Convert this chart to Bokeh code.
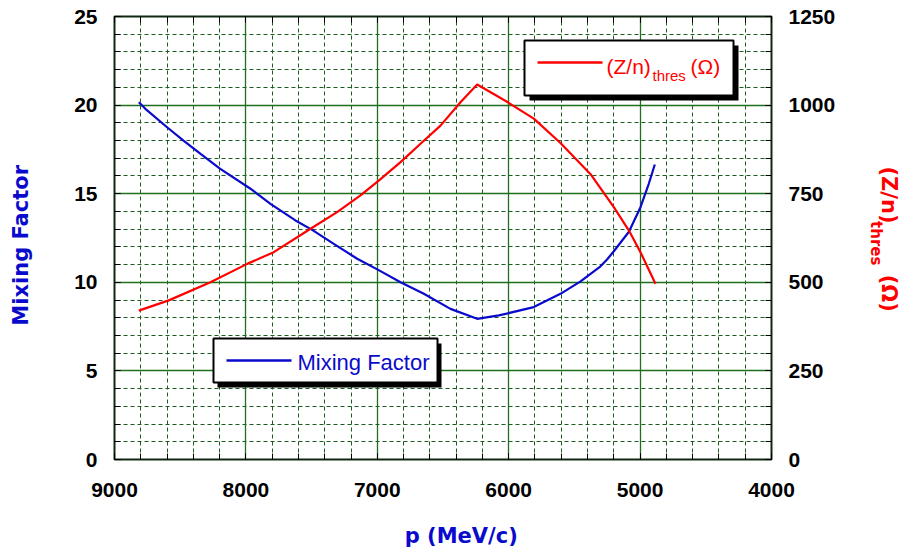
import math
from bokeh.plotting import figure
from bokeh.models import (Range1d, LinearAxis, FixedTicker, BoxAnnotation, Label, Title)
from bokeh.embed import file_html
from bokeh.resources import INLINE

# ---------------- data ----------------
mix_p = [8815, 8765, 8600, 8475, 8345, 8195, 7965, 7813, 7623, 7496, 7331, 7153,
         6993, 6823, 6646, 6443, 6240, 6075, 5809, 5606, 5453, 5301, 5250, 5200, 5085,
         4997, 4934, 4888]
mix_val = [20.16, 19.79, 18.75, 18.0, 17.25, 16.4, 15.28, 14.43, 13.49, 12.96, 12.17, 11.33,
           10.7, 10.0, 9.35, 8.5, 7.94, 8.13, 8.6, 9.35, 10.05, 10.9, 11.3, 11.75, 12.85,
           14.24, 15.56, 16.65]

zn_p = [8815, 8587, 8270, 7990, 7788, 7508, 7306, 7128, 6989, 6823, 6671, 6519,
        6367, 6240, 6016, 5809, 5606, 5377, 5200, 5085, 4997, 4883]
zn_val = [420, 449, 500, 552, 585, 651, 698, 745, 787, 839, 891, 942,
          1008, 1058, 1010, 962, 893, 805, 712, 646, 585, 496]

x_ticks = [9000, 8000, 7000, 6000, 5000, 4000]
x_minor = list(range(4000, 9001, 200))
left_ticks = [0, 5, 10, 15, 20, 25]
left_minor = list(range(0, 26, 1))
right_ticks = [0, 250, 500, 750, 1000, 1250]
right_minor = list(range(0, 1251, 50))

x_title = "p (MeV/c)"
left_title = "Mixing Factor"
right_title_main = "(Z/n)"
right_title_sub = "thres"
right_title_unit = "(Ω)"

# ---------------- layout helpers (pixel -> data) ----------------
FL, FR, FT, FB = 114, 771, 16, 459
W, H = 900, 550
XMAX, XMIN = 9000, 4000
YMAX = 25
NB = "\u00a0"


def X(px):
    return XMAX - (px - FL) / (FR - FL) * (XMAX - XMIN)


def Y(py):
    return (FB - py) / (FB - FT) * YMAX


BLUE = "#0a0acc"
RED = "#ff0000"
GRID_MAJ = "#1f6f1f"
GRID_MIN = "#1b5e20"

p = figure(width=W, height=H, output_backend="svg", toolbar_location=None,
           x_range=Range1d(XMAX, XMIN), y_range=Range1d(0, YMAX),
           min_border_left=FL, min_border_right=W - FR,
           min_border_top=FT, min_border_bottom=H - FB,
           x_axis_location=None, y_axis_location=None)
p.extra_y_ranges = {"z": Range1d(0, 1250)}
p.background_fill_color = "white"
p.border_fill_color = "white"
p.outline_line_color = "#102810"
p.outline_line_width = 2


def style_axis(ax, show_labels=True):
    ax.axis_line_color = None
    ax.major_tick_in = 6
    ax.major_tick_out = 0
    ax.minor_tick_in = 6
    ax.minor_tick_out = 0
    ax.major_tick_line_color = "black"
    ax.minor_tick_line_color = "black"
    ax.major_tick_line_width = 1
    ax.minor_tick_line_width = 1
    ax.major_label_text_font = "Liberation Sans"
    ax.major_label_text_font_style = "bold"
    ax.major_label_text_font_size = "21px"
    ax.major_label_text_color = "black"
    ax.major_label_standoff = 17
    ax.axis_label_text_font = "DejaVu Sans"
    ax.axis_label_text_font_style = "bold"
    if not show_labels:
        ax.major_label_text_alpha = 0


xb = LinearAxis(ticker=FixedTicker(ticks=x_ticks, minor_ticks=x_minor))
style_axis(xb)
xb.major_label_standoff = 23
xb.axis_label = NB * 5 + x_title
xb.axis_label_text_font_size = "21px"
xb.axis_label_text_color = BLUE
xb.axis_label_standoff = 24
p.add_layout(xb, "below")

xt = LinearAxis(ticker=FixedTicker(ticks=x_ticks, minor_ticks=x_minor))
style_axis(xt, show_labels=False)
xt.major_label_text_font_size = "1px"
xt.major_label_standoff = 0
p.add_layout(xt, "above")

yl = LinearAxis(ticker=FixedTicker(ticks=left_ticks, minor_ticks=left_minor))
style_axis(yl)
yl.axis_label = left_title + NB * 2
yl.axis_label_text_font_size = "21px"
yl.axis_label_text_color = BLUE
yl.axis_label_standoff = 38
p.add_layout(yl, "left")

yr = LinearAxis(y_range_name="z", ticker=FixedTicker(ticks=right_ticks, minor_ticks=right_minor))
style_axis(yr)
yr.axis_label = NB * 2 + right_title_sub
yr.axis_label_text_font_size = "15px"
yr.axis_label_text_color = RED
yr.axis_label_standoff = 29
p.add_layout(yr, "right")

t_main = Title(text=right_title_main + NB * 7 + right_title_unit, text_font="DejaVu Sans",
               text_font_size="21px", text_font_style="bold", text_color=RED,
               align="left", offset=150)
try:
    t_main.standoff = -24
except Exception:
    pass
p.add_layout(t_main, "right")

p.xgrid.ticker = xb.ticker
p.ygrid.ticker = yl.ticker
for g in (p.xgrid[0], p.ygrid[0]):
    g.grid_line_color = GRID_MAJ
    g.grid_line_width = 1.3
    g.minor_grid_line_color = GRID_MIN
    g.minor_grid_line_dash = "4 3"
    g.minor_grid_line_width = 1

# ---------------- data lines ----------------
p.line(mix_p, mix_val, line_color=BLUE, line_width=2.2)
p.line(zn_p, zn_val, y_range_name="z", line_color=RED, line_width=2.2)

# ---------------- custom legends ----------------
def legend_box(l, t, r, b, dx, dy):
    p.add_layout(BoxAnnotation(left=X(l + dx), right=X(r + dx), top=Y(t + dy), bottom=Y(b + dy),
                               fill_color="black", fill_alpha=1, line_color=None))
    p.add_layout(BoxAnnotation(left=X(l), right=X(r), top=Y(t), bottom=Y(b),
                               fill_color="white", fill_alpha=1, line_color="black",
                               line_width=2, line_alpha=1))


legend_box(524, 40, 733, 95, 5, 5)
legend_box(213, 338, 437, 382, 4, 5)

r1 = p.segment(x0=[X(537)], y0=[Y(62)], x1=[X(602)], y1=[Y(62)], line_color=RED, line_width=2.5)
r1.level = "overlay"
r2 = p.segment(x0=[X(226)], y0=[Y(360)], x1=[X(291)], y1=[Y(360)], line_color=BLUE, line_width=2.5)
r2.level = "overlay"


def lab(text, px, py, size, color, font="Liberation Sans", style="normal",
        align="left", baseline="alphabetic", angle=0.0):
    lb = Label(x=X(px), y=Y(py), text=text, text_font=font, text_font_size=size,
               text_font_style=style, text_color=color, text_align=align,
               text_baseline=baseline, angle=angle)
    lb.level = "overlay"
    p.add_layout(lb)


lab("(Z/n)", 606, 66, "21px", RED)
lab("thres", 652, 74.5, "15px", RED)
lab("(Ω)", 690, 66, "21px", RED)
lab("Mixing Factor", 297, 362, "22px", BLUE)

open("out.html", "w").write(file_html(p, INLINE))
